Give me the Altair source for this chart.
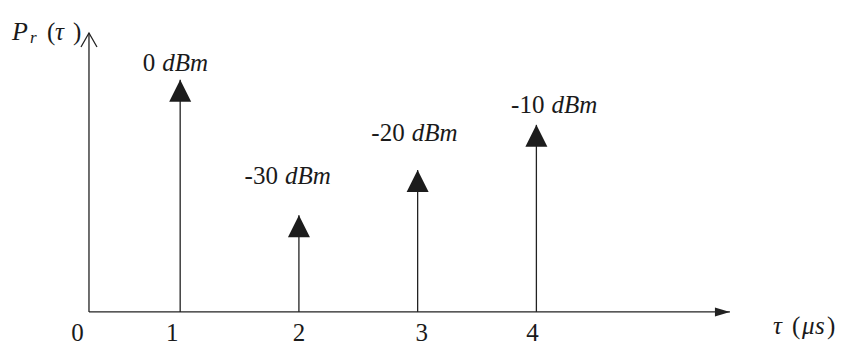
import altair as alt
import pandas as pd
import numpy as np

# ---- data ----
delays_us = [1, 2, 3, 4]
power_dbm = [0, -30, -20, -10]
power_text = ["0", "-30", "-20", "-10"]
tick_values = [0, 1, 2, 3, 4]
tick_text = ["0", "1", "2", "3", "4"]

# ---- layout / style ----
W, H = 832, 338
X_DOM = [-0.45, 6.557]
Y_DOM = [-58.94, 15.86]
ORIGIN_T = 0.232      # where the vertical axis stands
BASE_DB = -51.4       # horizontal axis level
YTOP_DB = 10.33       # tip of vertical axis arrow
XTIP_T = 5.63         # tip of horizontal axis arrow
label_dx_px = [-22, -18, -10, 11]
label_rise_px = [9, 31, 29, 12]
tick_dx_px = [16, -8, 0, 4, -4]

LINE = "#222222"
TXT = "#1a1a1a"
FONT = "Liberation Serif"
FS = 25

px_per_t = W / (X_DOM[1] - X_DOM[0])
px_per_db = H / (Y_DOM[1] - Y_DOM[0])

xs = alt.Scale(domain=X_DOM, nice=False, zero=False)
ys = alt.Scale(domain=Y_DOM, nice=False, zero=False)

stems = pd.DataFrame({"delay": delays_us, "power": power_dbm, "num": power_text})
stems["base"] = BASE_DB
stems["lx"] = stems["delay"] + np.array(label_dx_px) / px_per_t
stems["ly"] = stems["power"] + np.array(label_rise_px) / px_per_db

ticks = pd.DataFrame({"t": tick_values, "lab": tick_text})
ticks["tx"] = ticks["t"] + np.array(tick_dx_px) / px_per_t
ticks["base"] = BASE_DB

decor = pd.DataFrame({"ox": [ORIGIN_T], "ty": [YTOP_DB], "tx": [XTIP_T], "by": [BASE_DB]})


def X(f):
    return alt.X(f"{f}:Q", scale=xs, axis=None)


def Y(f):
    return alt.Y(f"{f}:Q", scale=ys, axis=None)


d = alt.Chart(decor)
yaxis = d.mark_rule(color=LINE, strokeWidth=1.3).encode(x=X("ox"), y=Y("by"), y2="ty:Q")
xaxis = d.mark_rule(color=LINE, strokeWidth=1.3).encode(x=X("ox"), x2="tx:Q", y=Y("by"))
ychev = d.mark_point(shape="M-8,14L0,0L8,14", size=4, filled=False, stroke=LINE,
                     strokeWidth=1.3, opacity=1).encode(x=X("ox"), y=Y("ty"))
xarrow = d.mark_point(shape="M0,0L-15,-4.5L-15,4.5Z", size=4, filled=True, fill=LINE,
                      strokeWidth=0, opacity=1).encode(x=X("tx"), y=Y("by"))


def dtext(txt, dx, dy, italic=False, size=FS):
    kw = dict(font=FONT, fontSize=size, align="left", baseline="alphabetic",
              dx=dx, dy=dy, color=TXT)
    if italic:
        kw["fontStyle"] = "italic"
    return d.mark_text(**kw)


# vertical axis title  P_r (τ)
ytitle = [
    dtext("P", -77, 7, True, 26).encode(x=X("ox"), y=Y("ty"), text=alt.value("P")),
    dtext("r", -59, 10, True, 17).encode(x=X("ox"), y=Y("ty"), text=alt.value("r")),
    dtext("(", -42, 7).encode(x=X("ox"), y=Y("ty"), text=alt.value("(")),
    dtext("τ", -34, 7, True).encode(x=X("ox"), y=Y("ty"), text=alt.value("τ")),
    dtext(")", -16, 7).encode(x=X("ox"), y=Y("ty"), text=alt.value(")")),
]
# horizontal axis title  τ (μs)
xtitle = [
    dtext("τ", 43, 22, True).encode(x=X("tx"), y=Y("by"), text=alt.value("τ")),
    dtext("(", 62, 22).encode(x=X("tx"), y=Y("by"), text=alt.value("(")),
    dtext("μ", 72, 22, True).encode(x=X("tx"), y=Y("by"), text=alt.value("μ")),
    dtext("s", 85, 22, True).encode(x=X("tx"), y=Y("by"), text=alt.value("s")),
    dtext(")", 97, 22).encode(x=X("tx"), y=Y("by"), text=alt.value(")")),
]

s = alt.Chart(stems)
stem_rules = s.mark_rule(color=LINE, strokeWidth=1.3).encode(x=X("delay"), y=Y("power"), y2="base:Q")
heads = s.mark_point(shape="M0,0L1,2L-1,2Z", size=484, filled=True, fill="#1c1c1c",
                     strokeWidth=0, opacity=1).encode(x=X("delay"), y=Y("power"))
num_text = s.mark_text(font=FONT, fontSize=FS, align="right", baseline="alphabetic",
                       dx=-3, color=TXT).encode(x=X("lx"), y=Y("ly"), text="num:N")
dbm_text = s.mark_text(font=FONT, fontSize=FS, fontStyle="italic", align="left",
                       baseline="alphabetic", dx=4, color=TXT).encode(
    x=X("lx"), y=Y("ly"), text=alt.value("dBm"))

tk = alt.Chart(ticks).mark_text(font=FONT, fontSize=FS, align="center", baseline="alphabetic",
                                dy=29, color=TXT).encode(x=X("tx"), y=Y("base"), text="lab:N")

chart = alt.layer(
    yaxis, xaxis, ychev, xarrow, stem_rules, heads, num_text, dbm_text, tk, *ytitle, *xtitle
).properties(
    width=W, height=H, padding=0, autosize="none", background="white"
).configure_view(stroke=None)

chart.save("out.html", embed_options={"renderer": "svg", "actions": False})
